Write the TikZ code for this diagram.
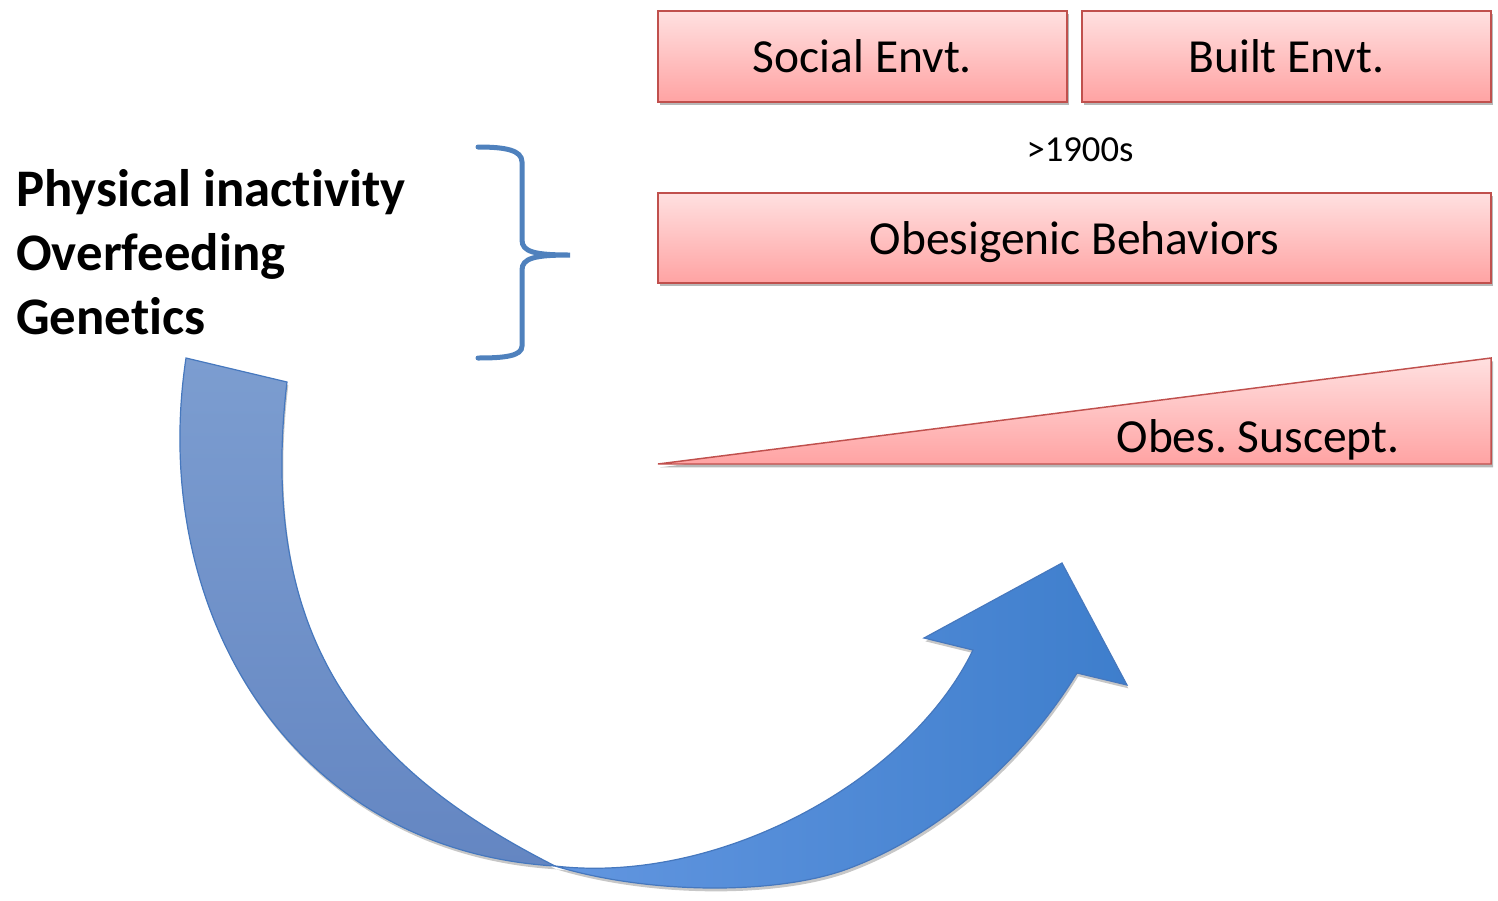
\documentclass[tikz,border=0pt]{standalone}
\usepackage{fontspec}
\setmainfont[Ligatures=NoCommon]{Carlito}
\usetikzlibrary{shadows}
\frenchspacing
\definecolor{boxedge}{RGB}{192,80,77}
\definecolor{boxtop}{RGB}{255,224,224}
\definecolor{boxbot}{RGB}{255,163,163}
\definecolor{braceblue}{RGB}{79,129,189}
\definecolor{tailtop}{RGB}{124,157,208}
\definecolor{tailbot}{RGB}{100,134,194}
\definecolor{headleft}{RGB}{98,150,224}
\definecolor{headright}{RGB}{62,126,204}
\definecolor{arrowedge}{RGB}{70,120,190}
\begin{document}
\begin{tikzpicture}[x=0.75pt,y=-0.75pt,
  redbox/.style={draw=boxedge, line width=1.1pt, top color=boxtop, bottom color=boxbot,
    drop shadow={shadow xshift=1.5pt, shadow yshift=-2.5pt, opacity=0.28, fill=black},
    inner sep=0pt, text depth=0pt, font=\fontsize{35.6}{42}\selectfont},
  boldline/.style={anchor=base west, inner sep=0pt, font=\fontsize{39.6}{48}\selectfont\bfseries},
  bandedge/.style={draw=arrowedge, line width=0.9pt,
    drop shadow={shadow xshift=1pt, shadow yshift=-2.5pt, opacity=0.22, fill=black}},
  bracestroke/.style={draw=braceblue, line width=3.75pt, line cap=round}]
\useasboundingbox (0,0) rectangle (1498,900);

% top row of environment boxes
\node[redbox, minimum width=409*0.75pt, minimum height=91*0.75pt] (social) at (862.5,56.5) {Social Envt.};
\node[redbox, minimum width=409*0.75pt, minimum height=91*0.75pt] (built) at (1286.5,56.5) {Built Envt.};

% era label
\node[inner sep=0pt, font=\fontsize{27.5}{33}\selectfont] (era) at (1080,150) {>1900s};

% behaviours box
\node[redbox, minimum width=833*0.75pt, minimum height=90*0.75pt] (behav) at (1074.5,238) {Obesigenic Behaviors};

% rising susceptibility wedge
\path[draw=boxedge, line width=1.1pt, top color=boxtop, bottom color=boxbot,
  drop shadow={shadow xshift=1.5pt, shadow yshift=-2.5pt, opacity=0.28, fill=black}]
  (658,464) -- (1491,358) -- (1491,464) -- cycle;
\node[inner sep=0pt, font=\fontsize{35.6}{42}\selectfont] (suscept) at (1258,440) {Obes. Suscept.};

% list of causes
\node[boldline] (phys) at (16,206) {Physical inactivity};
\node[boldline] (feed) at (16,270) {Overfeeding};
\node[boldline] (gene) at (16,334) {Genetics};

% curly brace grouping the causes
\coordinate (brtop) at (478,147);
\coordinate (brtip) at (570,255);
\coordinate (brbot) at (478,358);
\path[bracestroke]
  (brtop) .. controls (505,147) and (522,150) .. (522,162) -- (522,240)
  .. controls (522,252) and (535,255) .. (brtip)
  .. controls (535,255) and (522,258) .. (522,270) -- (522,346)
  .. controls (522,356) and (505,358) .. (brbot);

% curved arrow: tail band, narrowing to the twist point
\coordinate (twist) at (555,866);
\path[bandedge, top color=tailtop, bottom color=tailbot]
  (186,358) -- (287,382)
  .. controls (254,660) and (386,780) .. (twist)
  .. controls (290,850) and (148,610) .. (186,358)
  -- cycle;

% curved arrow: head band and arrowhead
\path[bandedge, left color=headleft, right color=headright]
  (twist) .. controls (650,895) and (780,895) .. (850,868)
  .. controls (950,830) and (1030,750) .. (1077,673)
  -- (1127,685) -- (1062,563) -- (924,638) -- (973,650)
  .. controls (910,780) and (720,885) .. (twist)
  -- cycle;
\end{tikzpicture}
\end{document}
